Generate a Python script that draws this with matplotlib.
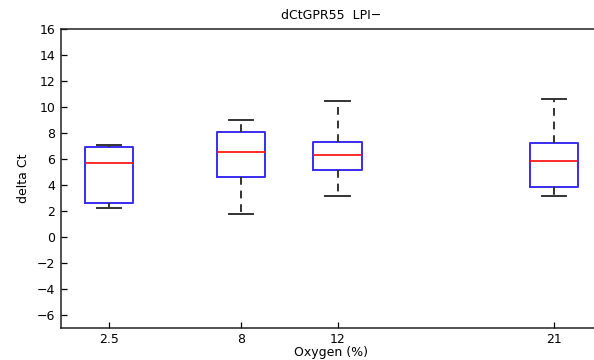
import matplotlib
matplotlib.use("Agg")
import matplotlib.pyplot as plt

plt.rcParams['font.family'] = ['DejaVu Sans']

positions = [2.5, 8, 12, 21]
tick_labels = ['2.5', '8', '12', '21']
medians = [5.69, 6.49, 6.26, 5.85]
q1 = [2.59, 4.57, 5.11, 3.80]
q3 = [6.88, 8.08, 7.28, 7.18]
whislo = [2.18, 1.72, 3.15, 3.15]
whishi = [7.08, 8.98, 10.44, 10.60]
yticks = list(range(-6, 17, 2))

fig = plt.figure(figsize=(5.94, 3.6), dpi=100)
ax = fig.add_axes([61/594, 1-327.7/360, (602-61)/594, (327.7-28.5)/360])

stats = []
for i in range(len(positions)):
    stats.append(dict(med=medians[i], q1=q1[i], q3=q3[i],
                      whislo=whislo[i], whishi=whishi[i], fliers=[]))

ax.bxp(stats, positions=positions, widths=2.0, showfliers=False,
       boxprops=dict(color='#3a2cf0', linewidth=1.4),
       medianprops=dict(color='#ff1a1a', linewidth=1.3),
       whiskerprops=dict(color='#333333', linewidth=1.4, linestyle=(0, (4, 3))),
       capprops=dict(color='#333333', linewidth=1.4),
       manage_ticks=False)

ax.set_xlim(0.5, 23)
ax.set_ylim(-7, 16)
ax.set_xticks(positions)
ax.set_xticklabels(tick_labels)
ax.set_yticks(yticks)
ax.set_yticklabels([str(v).replace('-', '\u2212') for v in yticks])
ax.tick_params(direction='in', length=4, labelsize=9, width=0.9, pad=4)
for s in ax.spines.values():
    s.set_linewidth(1.1)
    s.set_color('#222222')

ax.set_title('dCtGPR55  LPI\u2212', fontsize=9, pad=7)
ax.set_xlabel('Oxygen (%)', fontsize=9, labelpad=0)
ax.set_ylabel('delta Ct', fontsize=9, labelpad=5)

fig.savefig('out.png', dpi=100)
